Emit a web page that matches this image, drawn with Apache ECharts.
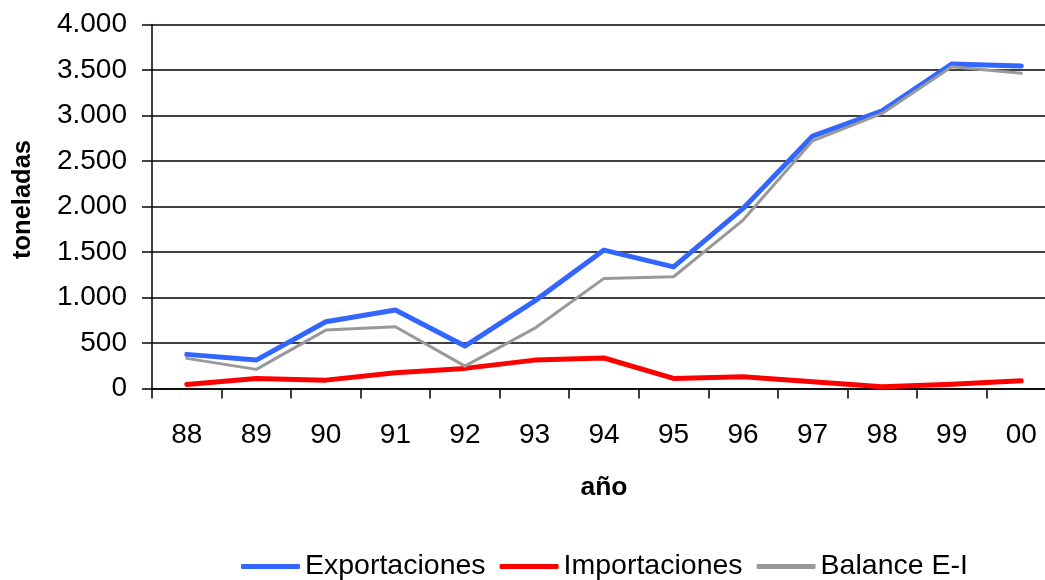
<!DOCTYPE html>
<html>
<head>
<meta charset="utf-8">
<script src="https://cdn.jsdelivr.net/npm/echarts@6/dist/echarts.min.js"></script>
<style>
html,body{margin:0;padding:0;background:#fff;}
#c{width:1045px;height:580px;}
</style>
</head>
<body>
<div id="c"></div>
<script>
var years = ['88','89','90','91','92','93','94','95','96','97','98','99','00'];
var exportaciones = [375, 312, 733, 862, 466, 960, 1521, 1337, 1979, 2774, 3052, 3565, 3543];
var importaciones = [45, 111, 92, 173, 221, 312, 335, 111, 129, 74, 19, 48, 85];
var balance = [331, 210, 642, 678, 246, 660, 1210, 1228, 1851, 2722, 3023, 3535, 3463];
var yTicks = [0, 500, 1000, 1500, 2000, 2500, 3000, 3500, 4000];

var FONT = "'Liberation Sans', Arial, sans-serif";
var chart = echarts.init(document.getElementById('c'), null, {renderer: 'canvas'});

function fmt(v){
  return String(v).replace(/\B(?=(\d{3})+(?!\d))/g, '.');
}

chart.setOption({
  animation: false,
  backgroundColor: '#ffffff',
  grid: {left: 152, top: 24.5, width: 904, height: 364, containLabel: false, outerBoundsMode: 'none'},
  xAxis: {
    type: 'category',
    data: years,
    boundaryGap: true,
    name: 'año',
    nameLocation: 'middle',
    nameGap: 86,
    nameTextStyle: {fontFamily: FONT, fontSize: 26.5, fontWeight: 'bold', color: '#000'},
    axisLine: {show: true, lineStyle: {color: '#000', width: 1.5}},
    axisTick: {show: true, inside: false, length: 10, alignWithLabel: false, lineStyle: {color: '#000', width: 1.5}},
    axisLabel: {fontFamily: FONT, fontSize: 28, color: '#000', margin: 33},
    splitLine: {show: false}
  },
  yAxis: {
    type: 'value',
    min: yTicks[0],
    max: yTicks[yTicks.length - 1],
    interval: 500,
    name: 'toneladas',
    nameLocation: 'middle',
    nameGap: 116,
    nameRotate: 90,
    nameTextStyle: {fontFamily: FONT, fontSize: 25.5, fontWeight: 'bold', color: '#000', padding: [0, 0, 0, 14]},
    axisLine: {show: true, lineStyle: {color: '#000', width: 1.5}},
    axisTick: {show: true, inside: false, length: 10, lineStyle: {color: '#000', width: 1.5}},
    axisLabel: {fontFamily: FONT, fontSize: 28, color: '#000', margin: 25, formatter: function(v){return fmt(v);}},
    splitLine: {show: true, lineStyle: {color: '#000', width: 1.5}}
  },
  legend: {
    left: 236,
    top: 547,
    itemWidth: 59,
    itemHeight: 5,
    itemGap: 14,
    icon: 'roundRect',
    textStyle: {fontFamily: FONT, fontSize: 28.5, color: '#000'},
    data: ['Exportaciones', 'Importaciones', 'Balance E-I']
  },
  series: [
    {name: 'Exportaciones', type: 'line', data: exportaciones, showSymbol: false, symbol: 'none',
     itemStyle: {color: '#3366FF'}, lineStyle: {color: '#3366FF', width: 5, cap: 'round', join: 'round'}},
    {name: 'Importaciones', type: 'line', data: importaciones, showSymbol: false, symbol: 'none',
     itemStyle: {color: '#FF0000'}, lineStyle: {color: '#FF0000', width: 5, cap: 'round', join: 'round'}},
    {name: 'Balance E-I', type: 'line', data: balance, showSymbol: false, symbol: 'none',
     itemStyle: {color: '#999999'}, lineStyle: {color: '#999999', width: 3, cap: 'round', join: 'round'}}
  ]
});
</script>
</body>
</html>
